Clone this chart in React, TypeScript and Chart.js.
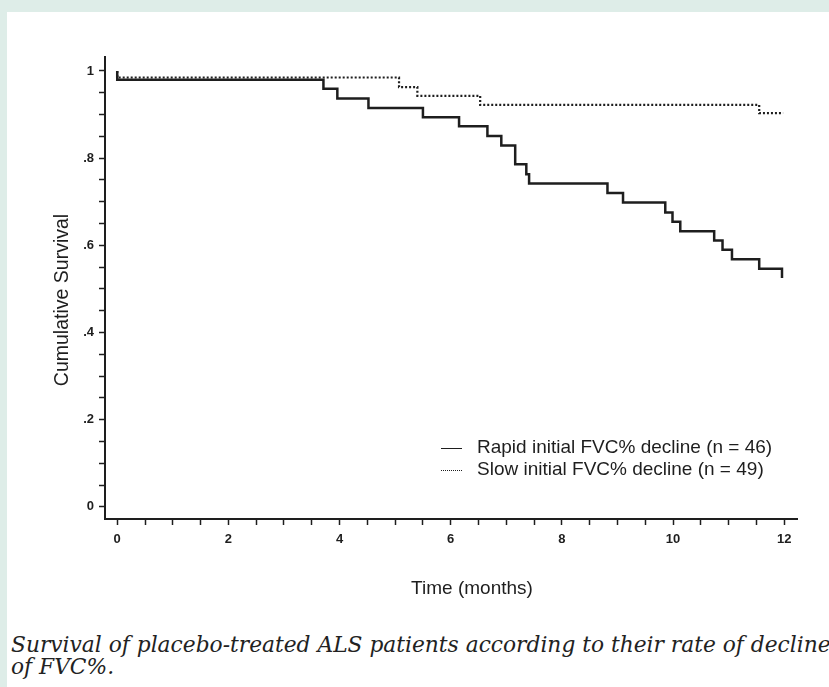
import React, { useEffect, useRef } from "react";
import { Chart, registerables } from "chart.js";

Chart.register(...registerables);

// ---- Data ----
const rapidLabel = "Rapid initial FVC% decline (n = 46)";
const rapidTimes = [0, 0, 3.71, 3.96, 4.52, 5.5, 6.15, 6.66, 6.91, 7.16, 7.36, 7.41, 8.82, 9.1, 9.86, 9.99, 10.13, 10.74, 10.89, 11.06, 11.55, 11.96];
const rapidSurvival = [1, 0.98, 0.959, 0.937, 0.915, 0.894, 0.873, 0.851, 0.829, 0.786, 0.763, 0.742, 0.72, 0.698, 0.675, 0.654, 0.632, 0.611, 0.59, 0.568, 0.546, 0.525];

const slowLabel = "Slow initial FVC% decline (n = 49)";
const slowTimes = [0, 0, 5.07, 5.4, 6.53, 11.55, 11.98];
const slowSurvival = [1, 0.985, 0.963, 0.943, 0.922, 0.903, 0.903];

const yMajorTicks = [0, 0.2, 0.4, 0.6, 0.8, 1];
const yMajorLabels = ["0", ".2", ".4", ".6", ".8", "1"];
const yMinorStep = 0.05;
const xMajorTicks = [0, 2, 4, 6, 8, 10, 12];
const xMajorLabels = ["0", "2", "4", "6", "8", "10", "12"];
const xMinorStep = 0.5;

const xTitle = "Time (months)";
const yTitle = "Cumulative Survival";
const captionLine1 = "Survival of placebo-treated ALS patients according to their rate of decline";
const captionLine2 = "of FVC%.";

const INK = "#1e1e1e";
const SANS = '"Liberation Sans", Arial, sans-serif';

function stepValues(start: number, end: number, step: number): number[] {
  const out: number[] = [];
  const n = Math.round((end - start) / step);
  for (let i = 0; i <= n; i++) out.push(+(start + i * step).toFixed(4));
  return out;
}

function labelFor(value: number, majors: number[], labels: string[]): string {
  for (let i = 0; i < majors.length; i++) {
    if (Math.abs(majors[i] - value) < 1e-6) return labels[i];
  }
  return "";
}

// Legend drawn inside the plot area, plus axis titles placed like the reference
const annotationPlugin = {
  id: "kmLegendAndTitles",
  afterDraw(chart: any) {
    const { ctx, chartArea } = chart;
    const textX = chartArea.left + 372;
    const lineX0 = chartArea.left + 336;
    const lineX1 = chartArea.left + 357;
    const rowY = [chartArea.top + 391, chartArea.top + 413];
    ctx.save();
    ctx.font = "19px " + SANS;
    ctx.fillStyle = INK;
    ctx.textBaseline = "middle";
    ctx.textAlign = "left";
    chart.data.datasets.forEach((ds: any, i: number) => {
      const y = rowY[i];
      ctx.beginPath();
      ctx.strokeStyle = INK;
      ctx.lineWidth = 1;
      ctx.setLineDash(ds.borderDash && ds.borderDash.length ? [1, 1] : []);
      ctx.moveTo(lineX0, y + 0.5);
      ctx.lineTo(lineX1, y + 0.5);
      ctx.stroke();
      ctx.setLineDash([]);
      ctx.fillText(ds.label, textX, y);
    });

    // x-axis title
    ctx.font = "19px " + SANS;
    ctx.textAlign = "center";
    ctx.textBaseline = "middle";
    ctx.fillText(xTitle, chartArea.left + 367, chartArea.bottom + 70);

    // y-axis title
    ctx.save();
    ctx.font = "19.5px " + SANS;
    ctx.translate(63, chartArea.top + 243);
    ctx.rotate(-Math.PI / 2);
    ctx.textAlign = "center";
    ctx.textBaseline = "middle";
    ctx.fillText(yTitle, 0, 0);
    ctx.restore();

    ctx.restore();
  },
};

export default function App() {
  const canvasRef = useRef<HTMLCanvasElement | null>(null);

  useEffect(() => {
    const canvas = canvasRef.current;
    if (!canvas) return;
    const rapid = rapidTimes.map((t, i) => ({ x: t, y: rapidSurvival[i] }));
    const slow = slowTimes.map((t, i) => ({ x: t, y: slowSurvival[i] }));
    const yTicks = stepValues(0, 1, yMinorStep);
    const xTicks = stepValues(0, 12, xMinorStep);

    const chart = new Chart(canvas, {
      type: "line",
      data: {
        datasets: [
          {
            label: rapidLabel,
            data: rapid,
            stepped: "before",
            borderColor: INK,
            borderWidth: 2.5,
            pointRadius: 0,
            fill: false,
          },
          {
            label: slowLabel,
            data: slow,
            stepped: "before",
            borderColor: INK,
            borderWidth: 2.2,
            borderDash: [2, 2],
            pointRadius: 0,
            fill: false,
          },
        ],
      },
      options: {
        animation: false,
        responsive: false,
        devicePixelRatio: 1,
        layout: { padding: { top: 57, right: 32, left: 0, bottom: 0 } },
        plugins: {
          legend: { display: false },
          tooltip: { enabled: false },
        },
        scales: {
          x: {
            type: "linear",
            min: -0.22,
            max: 12.23,
            afterFit: (scale: any) => {
              scale.height = 101;
            },
            afterBuildTicks: (scale: any) => {
              scale.ticks = xTicks.map((v) => ({ value: v }));
            },
            ticks: {
              autoSkip: false,
              maxRotation: 0,
              padding: 7,
              color: INK,
              font: { family: SANS, size: 13, weight: "bold" },
              callback: (value: any) => labelFor(Number(value), xMajorTicks, xMajorLabels),
            },
            grid: {
              display: true,
              drawOnChartArea: false,
              drawTicks: true,
              tickLength: 6,
              tickColor: INK,
              tickWidth: 1.5,
            },
            border: { display: true, color: INK, width: 2 },
            title: { display: false },
          },
          y: {
            type: "linear",
            min: -0.028,
            max: 1.032,
            afterFit: (scale: any) => {
              scale.width = 105;
            },
            afterBuildTicks: (scale: any) => {
              scale.ticks = yTicks.map((v) => ({ value: v }));
            },
            ticks: {
              autoSkip: false,
              padding: 5,
              color: INK,
              font: { family: SANS, size: 13, weight: "bold" },
              callback: (value: any) => labelFor(Number(value), yMajorTicks, yMajorLabels),
            },
            grid: {
              display: true,
              drawOnChartArea: false,
              drawTicks: true,
              tickLength: 6,
              tickColor: INK,
              tickWidth: 1.5,
            },
            border: { display: true, color: INK, width: 2 },
            title: { display: false },
          },
        },
      },
      plugins: [annotationPlugin],
    } as any);

    return () => {
      chart.destroy();
    };
  }, []);

  return (
    <div
      style={{
        position: "fixed",
        left: 0,
        top: 0,
        width: 829,
        height: 687,
        overflow: "hidden",
        background: "#deede8",
      }}
    >
      <div
        style={{
          position: "absolute",
          left: 7,
          top: 12,
          width: 822,
          height: 675,
          background: "#ffffff",
        }}
      />
      <canvas
        ref={canvasRef}
        width={829}
        height={620}
        style={{ position: "absolute", left: 0, top: 0, width: 829, height: 620 }}
      />
      <div
        style={{
          position: "absolute",
          left: 11,
          top: 634,
          whiteSpace: "nowrap",
          fontFamily: '"DejaVu Serif", serif',
          fontStyle: "italic",
          fontSize: 21.75,
          lineHeight: "22px",
          color: "#222",
        }}
      >
        {captionLine1}
        <br />
        {captionLine2}
      </div>
    </div>
  );
}
